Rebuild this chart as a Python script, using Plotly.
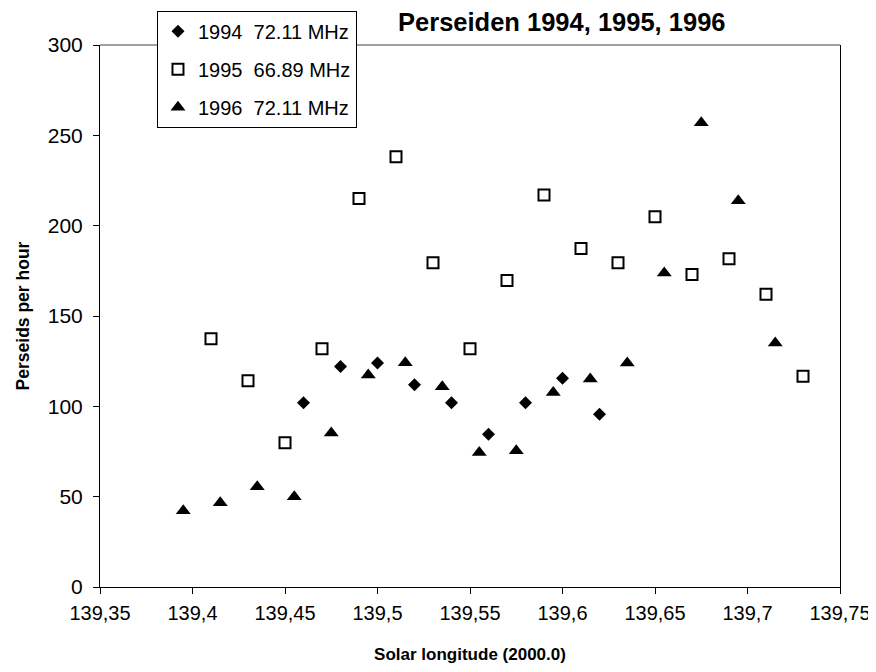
import plotly.graph_objects as go

# ---- data ----
x_1994 = [139.46, 139.48, 139.50, 139.52, 139.54, 139.56, 139.58, 139.60, 139.62]
y_1994 = [102, 122, 124, 112, 102, 84.5, 102, 115.5, 95.6]

x_1995 = [139.41, 139.43, 139.45, 139.47, 139.49, 139.51, 139.53, 139.55, 139.57,
          139.59, 139.61, 139.63, 139.65, 139.67, 139.69, 139.71, 139.73]
y_1995 = [137.4, 114.2, 79.9, 131.9, 215.1, 238.1, 179.5, 131.9, 169.7,
          217.0, 187.4, 179.5, 205.0, 173.0, 181.7, 162.0, 116.6]

x_1996 = [139.395, 139.415, 139.435, 139.455, 139.475, 139.495, 139.515, 139.535, 139.555,
          139.575, 139.595, 139.615, 139.635, 139.655, 139.675, 139.695, 139.715]
y_1996 = [42.2, 46.7, 55.5, 50.0, 85.2, 117.3, 124.1, 110.8, 74.4,
          75.4, 107.7, 115.1, 124.0, 173.8, 257.0, 213.8, 135.0]

x_tickvals = [139.35, 139.40, 139.45, 139.50, 139.55, 139.60, 139.65, 139.70, 139.75]
x_ticktext = ["139,35", "139,4", "139,45", "139,5", "139,55", "139,6", "139,65", "139,7", "139,75"]
y_tickvals = [0, 50, 100, 150, 200, 250, 300]

FONT = "Liberation Sans, Arial, sans-serif"

fig = go.Figure()
fig.add_trace(go.Scatter(
    x=x_1994, y=y_1994, mode="markers", name="1994  72.11 MHz", legendgroup="a",
    marker=dict(symbol="diamond", size=10, color="black", line=dict(width=0))))
fig.add_trace(go.Scatter(
    x=x_1995, y=y_1995, mode="markers", name="1995  66.89 MHz", legendgroup="b",
    marker=dict(symbol="square", size=11, color="white", line=dict(width=2, color="black"))))
fig.add_trace(go.Scatter(
    x=x_1996, y=y_1996, mode="markers", name="1996  72.11 MHz", legendgroup="c",
    marker=dict(symbol="triangle-up", size=13, color="black", line=dict(width=0))))

fig.update_layout(
    width=868, height=656,
    margin=dict(l=92, r=36, t=37, b=77, autoexpand=False),
    paper_bgcolor="white", plot_bgcolor="white",
    font=dict(family=FONT, size=21, color="black"),
    title=dict(text="<b>Perseiden 1994, 1995, 1996</b>", x=0.638, xanchor="center",
               y=0.979, yanchor="middle", font=dict(size=25.5, family=FONT, color="black")),
    showlegend=True,
    legend=dict(x=0.077, y=1.063, xanchor="left", yanchor="top",
                bgcolor="white", bordercolor="black", borderwidth=1,
                font=dict(size=20, family=FONT), tracegroupgap=9,
                itemwidth=30),
    xaxis=dict(range=[139.35, 139.75], tickvals=x_tickvals, ticktext=x_ticktext,
               automargin=False, ticklabelstandoff=2, ticklabeloverflow="allow",
               tickfont=dict(size=20),
               showgrid=False, zeroline=False, showline=True, linecolor="black", linewidth=1,
               ticks="outside", ticklen=6, tickcolor="black",
               title=dict(text="<b>Solar longitude (2000.0)</b>", font=dict(size=17), standoff=38)),
    yaxis=dict(range=[0, 300], tickvals=y_tickvals, automargin=False, ticklabelstandoff=6,
               showgrid=False, zeroline=False, showline=True, linecolor="black", linewidth=1,
               mirror=True,
               ticks="outside", ticklen=6, tickcolor="black",
               title=dict(text="<b>Perseids per hour</b>", font=dict(size=17.5), standoff=13)),
)
fig.add_shape(type="line", xref="paper", yref="paper", x0=0, x1=1, y0=1, y1=1,
              line=dict(color="#808080", width=1.5))

fig.write_html("out.html")
